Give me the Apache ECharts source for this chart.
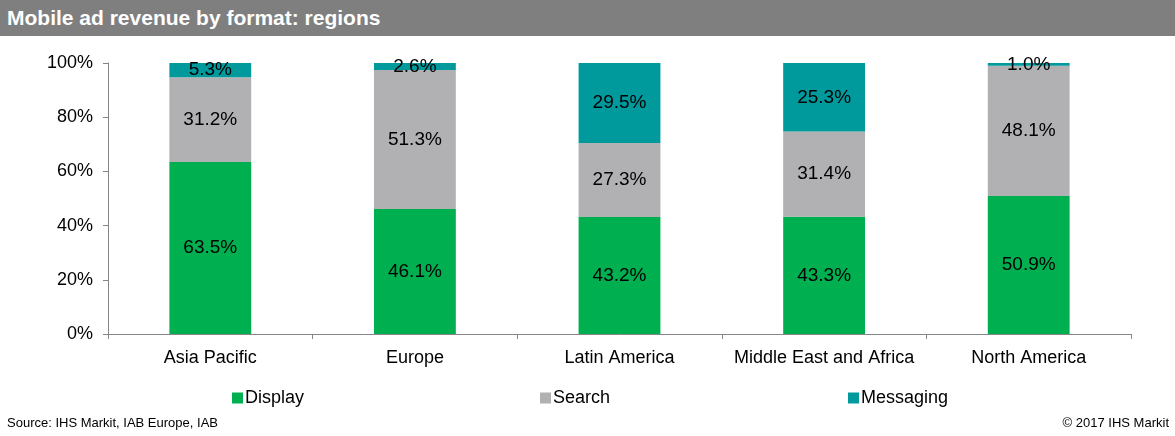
<!DOCTYPE html>
<html><head><meta charset="utf-8">
<script src="https://cdn.jsdelivr.net/npm/echarts@6/dist/echarts.min.js"></script>
<style>
html,body{margin:0;padding:0;background:#fff;}
#hdr{position:absolute;left:0;top:0;width:1175px;height:36px;background:#7f7f7f;color:#fff;font:bold 21px "Liberation Sans",Arial,sans-serif;line-height:36px;padding-left:7px;box-sizing:border-box;}
#chart{position:absolute;left:0;top:0;width:1175px;height:436px;}
#src{position:absolute;left:7px;top:415px;font:13px "Liberation Sans",Arial,sans-serif;color:#000;}
#copy{position:absolute;right:6px;top:415px;font:13px "Liberation Sans",Arial,sans-serif;color:#000;}
</style></head>
<body>
<div id="chart"></div>
<div id="hdr">Mobile ad revenue by format: regions</div>
<div id="src">Source: IHS Markit, IAB Europe, IAB</div>
<div id="copy">© 2017 IHS Markit</div>
<script>
const categories = ["Asia Pacific", "Europe", "Latin America", "Middle East and Africa", "North America"];
const display = [63.5, 46.1, 43.2, 43.3, 50.9];
const search = [31.2, 51.3, 27.3, 31.4, 48.1];
const messaging = [5.3, 2.6, 29.5, 25.3, 1.0];
const yTicks = [0, 20, 40, 60, 80, 100];
const seriesNames = ['Display', 'Search', 'Messaging'];

const font = '"Liberation Sans", Arial, sans-serif';
const chart = echarts.init(document.getElementById('chart'), null, {renderer: 'canvas'});
const lbl = () => ({show: true, position: 'inside', color: '#000', fontSize: 19, fontFamily: font, formatter: p => p.value.toFixed(1) + '%'});
const legendLefts = [227, 535, 843];
chart.setOption({
  animation: false,
  grid: {left: 108, right: 44, top: 63, bottom: 102},
  legend: seriesNames.map((n, i) => ({
    top: 384, left: legendLefts[i], itemWidth: 11, itemHeight: 11, icon: 'rect',
    textStyle: {fontSize: 18, fontFamily: font, color: '#000', padding: [0, 0, 0, -3]},
    data: [n]
  })),
  xAxis: {
    type: 'category', data: categories,
    axisLine: {lineStyle: {color: '#868686'}},
    axisTick: {show: true, length: 5, lineStyle: {color: '#868686'}},
    axisLabel: {interval: 0, fontSize: 18, fontFamily: font, color: '#000', margin: 15}
  },
  yAxis: {
    type: 'value', min: 0, max: 100, interval: 20,
    splitLine: {show: false},
    axisLine: {show: true, lineStyle: {color: '#868686'}},
    axisTick: {show: true, length: 5, lineStyle: {color: '#868686'}},
    axisLabel: {fontSize: 18, fontFamily: font, color: '#000', margin: 15, formatter: v => yTicks.includes(v) ? v + '%' : ''}
  },
  series: [
    {name: 'Display', type: 'bar', stack: 'a', barWidth: '40%', data: display, itemStyle: {color: '#00b050'}, label: lbl()},
    {name: 'Search', type: 'bar', stack: 'a', data: search, itemStyle: {color: '#b1b1b3'}, label: lbl()},
    {name: 'Messaging', type: 'bar', stack: 'a', data: messaging, itemStyle: {color: '#00999c'}, label: lbl()}
  ]
});
</script>
</body></html>
